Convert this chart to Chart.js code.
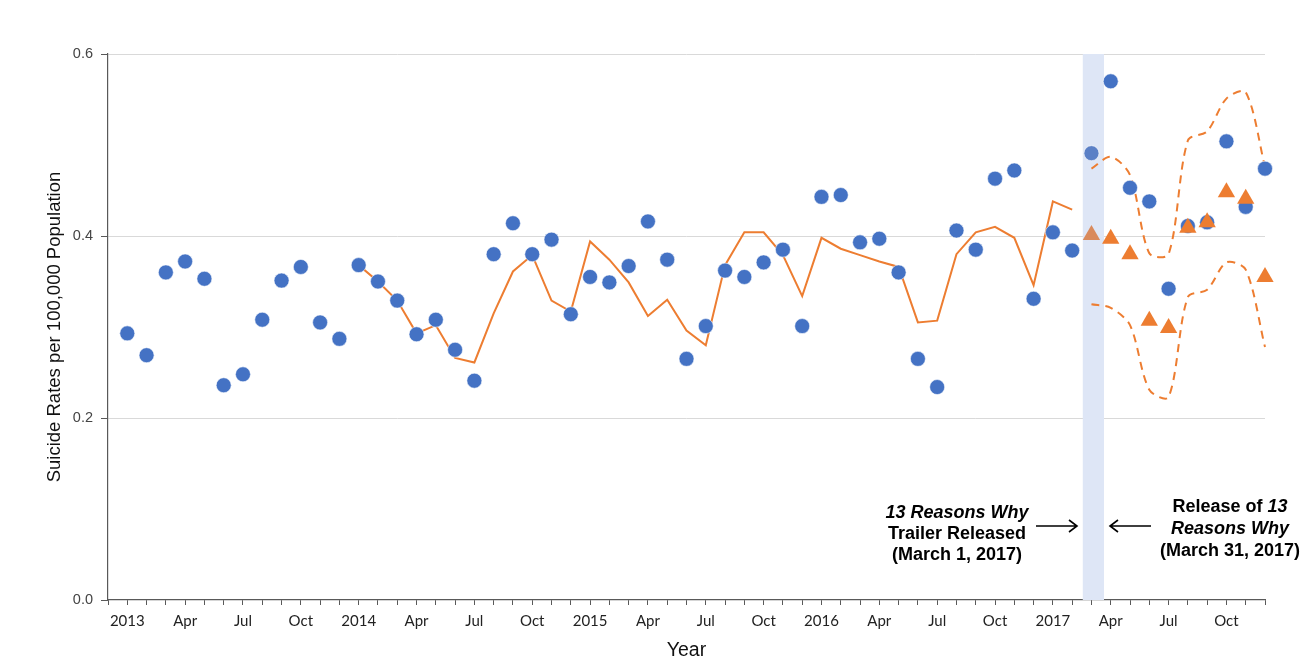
<!DOCTYPE html>
<html>
<head>
<meta charset="utf-8">
<script src="https://cdn.jsdelivr.net/npm/chart.js@4.4.1/dist/chart.umd.min.js"></script>
<style>
html,body{margin:0;padding:0;background:#fff;}
#wrap{width:1314px;height:672px;position:relative;}
</style>
</head>
<body>
<div id="wrap"><canvas id="c" width="1314" height="672"></canvas></div>
<script>
// ---- Data ----
const months = ['Jan','Feb','Mar','Apr','May','Jun','Jul','Aug','Sep','Oct','Nov','Dec'];
const years = [2013, 2014, 2015, 2016, 2017];
const categories = [];
years.forEach(y => months.forEach(m => categories.push(m + ' ' + y)));

const tickLabels = ['2013','Apr','Jul','Oct','2014','Apr','Jul','Oct','2015','Apr','Jul','Oct',
                    '2016','Apr','Jul','Oct','2017','Apr','Jul','Oct'];

const observedRates = [
  0.293,0.269,0.360,0.372,0.353,0.236,0.248,0.308,0.351,0.366,0.305,0.287,
  0.368,0.350,0.329,0.292,0.308,0.275,0.241,0.380,0.414,0.380,0.396,0.314,
  0.355,0.349,0.367,0.416,0.374,0.265,0.301,0.362,0.355,0.371,0.385,0.301,
  0.443,0.445,0.393,0.397,0.360,0.265,0.234,0.406,0.385,0.463,0.472,0.331,
  0.404,0.384,0.491,0.570,0.453,0.438,0.342,0.411,0.415,0.504,0.432,0.474
];
const fittedRates = [
  null,null,null,null,null,null,null,null,null,null,null,null,
  0.368,0.350,0.329,0.293,0.302,0.266,0.261,0.315,0.361,0.379,0.329,0.317,
  0.394,0.374,0.349,0.312,0.330,0.296,0.280,0.368,0.404,0.404,0.379,0.334,
  0.398,0.386,0.379,0.372,0.366,0.305,0.307,0.380,0.404,0.410,0.398,0.346,
  0.438,0.429,null,null,null,null,null,null,null,null,null,null
];
const forecastRates = [0.401,0.397,0.380,0.307,0.299,0.409,0.415,0.448,0.441,0.355];
const forecastUpper = [0.474,0.487,0.467,0.381,0.380,0.505,0.515,0.551,0.558,0.476];
const forecastLower = [0.325,0.321,0.302,0.231,0.223,0.333,0.341,0.371,0.363,0.278];
const forecastStart = 50;           // March 2017
const releaseWindow = [49.55, 50.65]; // March 1 - March 31, 2017 (in month index units)

// ---- Build library structures ----
const pts = arr => arr.map((v, i) => ({x: i, y: v}));
const fpts = arr => arr.map((v, i) => ({x: forecastStart + i, y: v}));

const BLUE = '#4472C4', ORANGE = '#ED7D31';

const bandPlugin = {
  id: 'band',
  beforeDatasetsDraw(chart) {
    const {ctx, chartArea, scales: {x}} = chart;
    const x0 = x.getPixelForValue(releaseWindow[0]);
    const x1 = x.getPixelForValue(releaseWindow[1]);
    ctx.save();
    ctx.fillStyle = '#DEE6F6';
    ctx.fillRect(x0, chartArea.top, x1 - x0, chartArea.bottom - chartArea.top);
    ctx.restore();
  }
};

function drawMixed(ctx, parts, cx, y) {
  let total = 0;
  parts.forEach(p => { ctx.font = p.font; p.w = ctx.measureText(p.t).width; total += p.w; });
  let x = cx - total / 2;
  parts.forEach(p => { ctx.font = p.font; ctx.fillText(p.t, x, y); x += p.w; });
}

const notePlugin = {
  id: 'notes',
  afterDraw(chart) {
    const {ctx} = chart;
    const B = 'bold 18px "Liberation Sans", Arial, sans-serif';
    const BI = 'italic bold 18px "Liberation Sans", Arial, sans-serif';
    ctx.save();
    ctx.fillStyle = '#000';
    ctx.textBaseline = 'middle';
    ctx.textAlign = 'left';
    drawMixed(ctx, [{t:'13 Reasons Why', font: BI}], 957, 513);
    drawMixed(ctx, [{t:'Trailer Released', font: B}], 957, 534);
    drawMixed(ctx, [{t:'(March 1, 2017)', font: B}], 957, 555);
    drawMixed(ctx, [{t:'Release of ', font: B}, {t:'13', font: BI}], 1230, 507);
    drawMixed(ctx, [{t:'Reasons Why', font: BI}], 1230, 529);
    drawMixed(ctx, [{t:'(March 31, 2017)', font: B}], 1230, 551);
    // arrows
    ctx.strokeStyle = '#000';
    ctx.lineWidth = 1.6;
    ctx.beginPath();
    ctx.moveTo(1036, 526); ctx.lineTo(1077, 526);
    ctx.moveTo(1069, 520); ctx.lineTo(1077, 526); ctx.lineTo(1069, 532);
    ctx.moveTo(1151, 526); ctx.lineTo(1110, 526);
    ctx.moveTo(1118, 520); ctx.lineTo(1110, 526); ctx.lineTo(1118, 532);
    ctx.stroke();
    ctx.restore();
  }
};

new Chart(document.getElementById('c'), {
  type: 'line',
  data: {
    datasets: [
      {
        label: 'Forecast',
        data: fpts(forecastRates),
        showLine: false,
        clip: false,
        pointStyle: 'triangle',
        pointRadius: 10,
        pointHoverRadius: 10,
        pointBackgroundColor: ctx => ctx.dataIndex === 0 ? '#D98A5C' : ORANGE,
        pointBorderColor: ctx => ctx.dataIndex === 0 ? '#D98A5C' : ORANGE,
        pointBorderWidth: 0,
        order: 0
      },
      {
        label: 'Observed',
        data: pts(observedRates),
        showLine: false,
        clip: false,
        pointStyle: 'circle',
        pointRadius: 7.5,
        pointHoverRadius: 7.5,
        pointBackgroundColor: ctx => ctx.dataIndex === forecastStart ? '#5B80C6' : BLUE,
        pointBorderColor: 'rgba(255,255,255,0.7)',
        pointBorderWidth: 0.8,
        order: 1
      },
      {
        label: 'Model',
        data: pts(fittedRates),
        borderColor: ORANGE,
        borderWidth: 2,
        pointRadius: 0,
        tension: 0,
        spanGaps: false,
        clip: false,
        order: 2
      },
      {
        label: 'Upper 95% CI',
        data: fpts(forecastUpper),
        borderColor: ORANGE,
        borderWidth: 2,
        borderDash: [8, 6],
        pointRadius: 0,
        tension: 0.3,
        clip: false,
        order: 2
      },
      {
        label: 'Lower 95% CI',
        data: fpts(forecastLower),
        borderColor: ORANGE,
        borderWidth: 2,
        borderDash: [8, 6],
        pointRadius: 0,
        tension: 0.3,
        clip: false,
        order: 2
      }
    ]
  },
  options: {
    responsive: false,
    animation: false,
    events: [],
    layout: {padding: {left: 0, right: 49, top: 54, bottom: 0}},
    plugins: {legend: {display: false}, tooltip: {enabled: false}},
    scales: {
      x: {
        type: 'linear',
        min: -1,
        max: categories.length - 1,
        afterFit: s => { s.height = 72; },
        afterBuildTicks: s => { s.ticks = []; for (let v = -1; v < categories.length; v++) s.ticks.push({value: v}); },
        ticks: {
          autoSkip: false,
          maxRotation: 0,
          minRotation: 0,
          padding: 7,
          color: '#222',
          font: {family: 'Lato, "Liberation Sans", sans-serif', size: 15},
          callback: v => (v >= 0 && v % 3 === 0) ? tickLabels[v / 3] : ''
        },
        grid: {drawOnChartArea: false, drawTicks: true, tickLength: 5, tickColor: '#595959', color: '#595959'},
        border: {display: true, color: '#595959', width: 1.2},
        title: {
          display: true, text: 'Year', color: '#111',
          font: {family: '"Liberation Sans", Arial, sans-serif', size: 19.5},
          padding: {top: 0, bottom: 10}
        }
      },
      y: {
        min: 0,
        max: 0.6,
        afterFit: s => { s.width = 108; },
        ticks: {
          stepSize: 0.2,
          padding: 8,
          color: '#444',
          font: {family: '"Liberation Sans", Arial, sans-serif', size: 14.5},
          callback: v => v.toFixed(1)
        },
        grid: {
          color: c => c.tick && c.tick.value === 0 ? 'rgba(0,0,0,0)' : '#D9D9D9',
          tickColor: '#595959',
          tickLength: 7,
          drawTicks: true
        },
        border: {display: true, color: '#595959', width: 1.2},
        title: {
          display: true, text: 'Suicide Rates per 100,000 Population', color: '#111',
          font: {family: '"Liberation Sans", Arial, sans-serif', size: 18.5},
          padding: {top: 44, bottom: 0}
        }
      }
    }
  },
  plugins: [bandPlugin, notePlugin]
});
</script>
</body>
</html>
